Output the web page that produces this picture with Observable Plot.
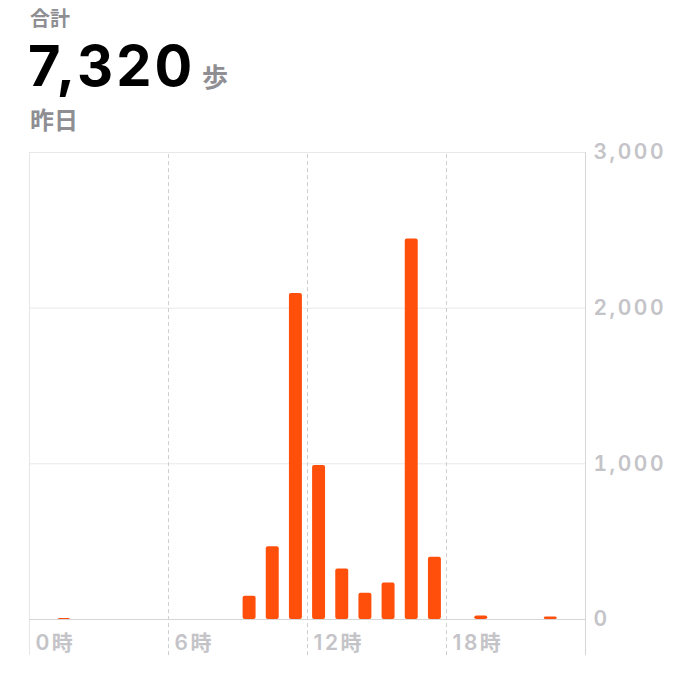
<!DOCTYPE html>
<html>
<head>
<meta charset="utf-8">
<script src="https://cdn.jsdelivr.net/npm/d3@7"></script>
<script src="https://cdn.jsdelivr.net/npm/@observablehq/plot@0.6"></script>
<style>
  html, body { margin: 0; padding: 0; background: #fff; }
  body { width: 675px; height: 695px; overflow: hidden; font-family: Inter, "Noto Sans CJK JP", sans-serif; }
  #header { position: relative; height: 140px; }
  #header div { position: absolute; white-space: nowrap; line-height: 1; }
  #label { left: 30px; top: 9px; font-size: 20px; font-weight: 700; color: #8e8e93; }
  #total { left: 28px; top: 38px; font-size: 56px; font-weight: 700; color: #000; letter-spacing: 3px; }
  #unit { left: 202px; top: 65px; font-size: 26px; font-weight: 700; color: #8e8e93; }
  #day { left: 30px; top: 109px; font-size: 24px; font-weight: 700; color: #8e8e93; }
</style>
</head>
<body>
<div id="header">
  <div id="label">合計</div>
  <div id="total"></div>
  <div id="unit">歩</div>
  <div id="day">昨日</div>
</div>
<div id="chart"></div>
<script>
const totalSteps = 7320;
const hours = [1, 9, 10, 11, 12, 13, 14, 15, 16, 17, 19, 22];
const steps = [6, 150, 468, 2095, 990, 325, 168, 235, 2445, 400, 22, 16];
const yTicks = [0, 1000, 2000, 3000];
const xTicks = [0, 6, 12, 18];
const xTickLabels = ["0時", "6時", "12時", "18時"];

document.getElementById("total").textContent = d3.format(",")(totalSteps);

const rows = hours.map((h, i) => ({hour: h, steps: steps[i]}));
const xLabels = xTicks.map((t, i) => ({t, label: xTickLabels[i]}));

const chart = Plot.plot({
  width: 675,
  height: 555,
  marginTop: 12,
  marginBottom: 76,
  marginLeft: 29,
  marginRight: 90,
  style: {fontFamily: 'Inter, "Noto Sans CJK JP", sans-serif', background: "#fff"},
  x: {domain: [0, 24], axis: null},
  y: {domain: [0, 3000]},
  marks: [
    Plot.ruleY(yTicks.filter(d => d > 0), {x1: 0, x2: 24, y: d => d, stroke: "#e8e8e8", strokeWidth: 1}),
    Plot.ruleX([0], {x: d => d, y1: -232, y2: 3000, stroke: "#e6e6e6", strokeWidth: 1}),
    Plot.ruleX([24], {x: d => d, y1: -232, y2: 3000, stroke: "#d6d6d6", strokeWidth: 1}),
    Plot.ruleX(xTicks.filter(d => d > 0), {x: d => d, y1: -232, y2: 3000, stroke: "#cfcfcf", strokeWidth: 1, strokeDasharray: "4,3"}),
    Plot.ruleY([0], {x1: 0, x2: 24, y: d => d, stroke: "#d6d6d6", strokeWidth: 1}),
    Plot.rect(rows, {x1: d => d.hour + 0.22, x2: d => d.hour + 0.78, y1: 0, y2: "steps", fill: "#ff4f0b", rx: 2}),
    Plot.axisY({anchor: "right", ticks: yTicks, tickSize: 0, tickPadding: 8, tickFormat: d3.format(","), fontSize: 21, fontWeight: 600, fill: "#c4c4c8", label: null}),
    Plot.text(xLabels, {x: "t", y: 0, text: "label", dx: 6, dy: 24, textAnchor: "start", fontSize: 21, fontWeight: 600, fill: "#c4c4c8"})
  ]
});
d3.select(chart).selectAll("text").style("letter-spacing", "2.5px");
document.getElementById("chart").appendChild(chart);
</script>
</body>
</html>
